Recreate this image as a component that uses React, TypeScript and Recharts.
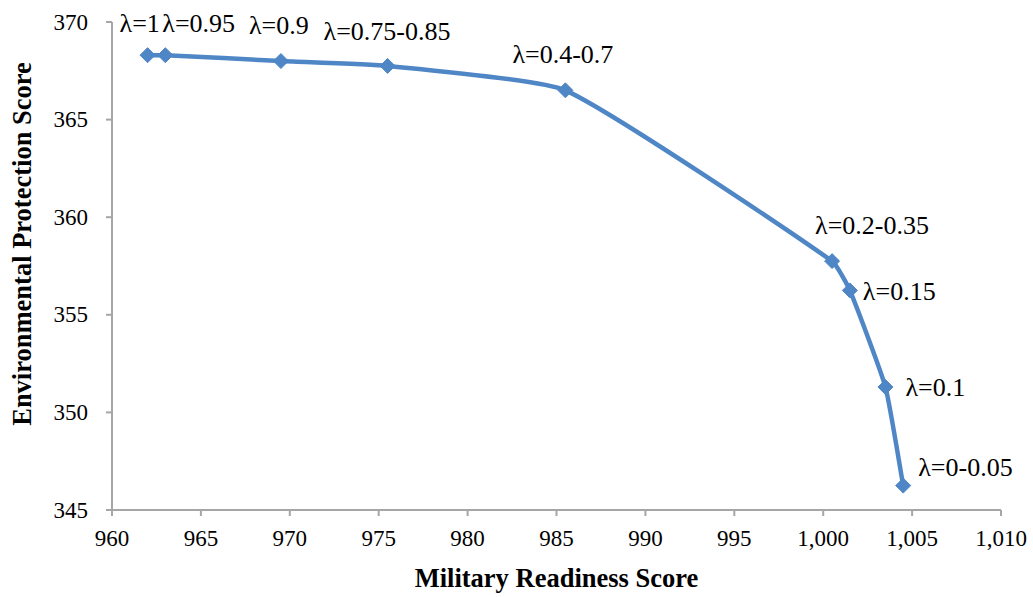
import { LineChart, Line, XAxis, YAxis, LabelList, Label } from "recharts";

const readiness = [962, 963, 969.5, 975.5, 985.5, 1000.5, 1001.5, 1003.5, 1004.5];
const protection = [368.3, 368.3, 368.0, 367.75, 366.5, 357.75, 356.25, 351.3, 346.25];
const lambdas = ["λ=1", "λ=0.95", "λ=0.9", "λ=0.75-0.85", "λ=0.4-0.7", "λ=0.2-0.35", "λ=0.15", "λ=0.1", "λ=0-0.05"];
const xTicks = [960, 965, 970, 975, 980, 985, 990, 995, 1000, 1005, 1010];
const yTicks = [345, 350, 355, 360, 365, 370];

const data = readiness.map((x, i) => ({ x, y: protection[i], label: lambdas[i] }));

const BLUE = "#4F86C6", AXIS = "#A6A6A6", FONT = "'Liberation Serif', 'Times New Roman', serif";
// label offset from the point: [dx to text start, dy to text middle]
const OFFS = [[-28, -32], [-3, -32], [-32, -36], [-64, -34], [-53, -36], [-17, -36], [13, 1], [20, 0], [15, -18]];
const fmt = (n: number) => n.toLocaleString("en-US");

// excel-ish smoothed line: tangent along (next - prev), length scaled to the segment so short hops don't loop
const smooth = (ctx: any) => {
  let pts: number[][] = [];
  const K = 0.15;
  const tan = (i: number) => {
    const a = pts[Math.max(i - 1, 0)], c = pts[Math.min(i + 1, pts.length - 1)];
    const dx = c[0] - a[0], dy = c[1] - a[1], l = Math.hypot(dx, dy) || 1;
    return [dx / l, dy / l];
  };
  return {
    areaStart() {},
    areaEnd() {},
    lineStart() { pts = []; },
    point(x: number, y: number) { pts.push([+x, +y]); },
    lineEnd() {
      if (!pts.length) return;
      ctx.moveTo(pts[0][0], pts[0][1]);
      for (let i = 0; i < pts.length - 1; i++) {
        const b = pts[i], c = pts[i + 1];
        const len = Math.hypot(c[0] - b[0], c[1] - b[1]) * K;
        const t1 = tan(i), t2 = tan(i + 1);
        ctx.bezierCurveTo(b[0] + t1[0] * len, b[1] + t1[1] * len, c[0] - t2[0] * len, c[1] - t2[1] * len, c[0], c[1]);
      }
    },
  };
};

const Diamond = (p: any) => {
  const { cx, cy } = p;
  if (cx == null) return null;
  const s = 7.5;
  return <path d={`M${cx},${cy - s}L${cx + s},${cy}L${cx},${cy + s}L${cx - s},${cy}Z`} fill={BLUE} stroke={BLUE} strokeWidth={1} />;
};

const PtLabel = (p: any) => {
  const { x, y, index, value } = p;
  const [dx, dy] = OFFS[index];
  return <text x={x + dx} y={y + dy} dominantBaseline="central" fontSize={26} fontFamily={FONT} fill="#000">{value}</text>;
};

const XTick = (p: any) => (
  <text x={p.x} y={p.y + 20} textAnchor="middle" dominantBaseline="central" fontSize={23} fontFamily={FONT} fill="#000">{fmt(p.payload.value)}</text>
);
const YTick = (p: any) => (
  <text x={p.x - 16} y={p.y} textAnchor="end" dominantBaseline="central" fontSize={23} fontFamily={FONT} fill="#000">{p.payload.value}</text>
);

const YTitle = (p: any) => {
  const vb = p.viewBox;
  const cx = 22, cy = vb.y + vb.height / 2 - 22;
  return (
    <text x={cx} y={cy} transform={`rotate(-90 ${cx} ${cy})`} textAnchor="middle" dominantBaseline="central"
      fontSize={26.5} fontWeight="bold" fontFamily={FONT} fill="#000">Environmental Protection Score</text>
  );
};

export default function App() {
  return (
    <div style={{ position: "absolute", left: 0, top: 0, background: "#fff" }}>
      <LineChart width={1033} height={597} data={data} margin={{ top: 22, right: 32, left: 0, bottom: 0 }}>
        <XAxis dataKey="x" type="number" domain={[960, 1010]} ticks={xTicks} allowDataOverflow
          stroke={AXIS} strokeWidth={2} tickSize={6} tickLine={{ stroke: AXIS, strokeWidth: 2 }} tick={<XTick />} height={87}>
          <Label value="Military Readiness Score" position="insideBottom" offset={10} fontSize={26.5} fontWeight="bold" fontFamily={FONT} fill="#000" />
        </XAxis>
        <YAxis dataKey="y" type="number" domain={[345, 370]} ticks={yTicks} allowDataOverflow
          stroke={AXIS} strokeWidth={2} tickSize={6} tickLine={{ stroke: AXIS, strokeWidth: 2 }} tick={<YTick />} width={112}>
          <Label content={<YTitle />} />
        </YAxis>
        <Line dataKey="y" type={smooth as any} stroke={BLUE} strokeWidth={4.5} dot={<Diamond />} activeDot={false} isAnimationActive={false}>
          <LabelList dataKey="label" content={<PtLabel />} />
        </Line>
      </LineChart>
    </div>
  );
}
